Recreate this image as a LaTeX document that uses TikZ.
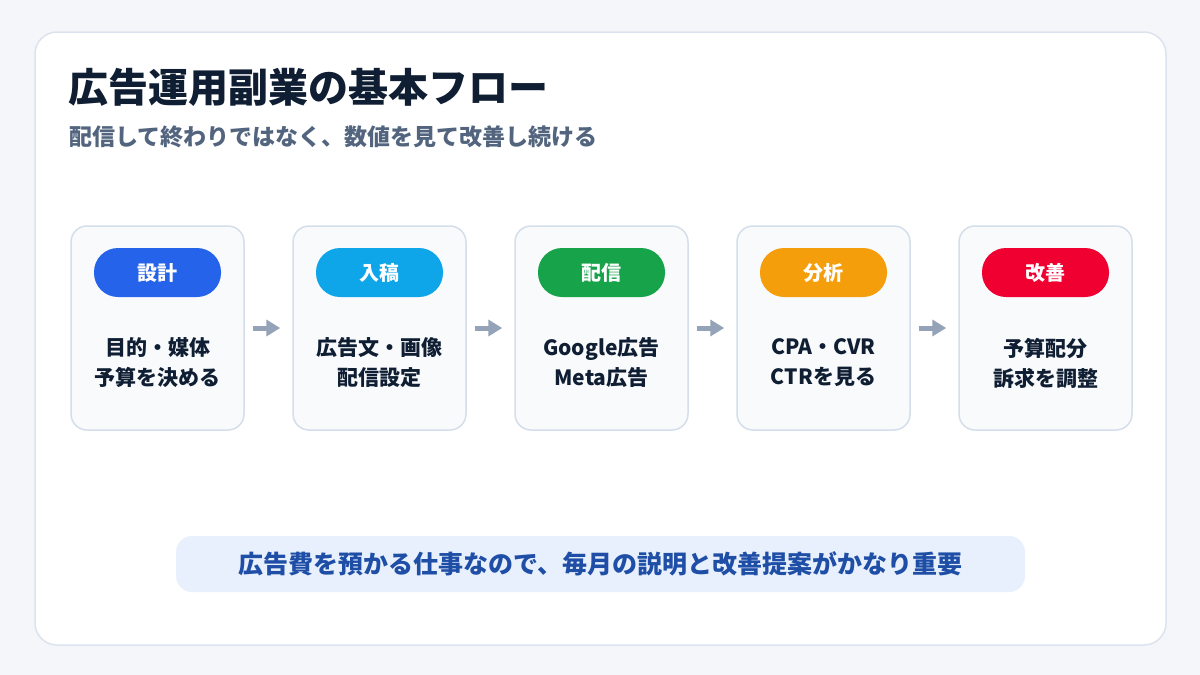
\documentclass[tikz,border=0pt]{standalone}
\usepackage{fontspec}
\setmainfont{Noto Sans CJK JP}
\usepackage{tikz}
\usetikzlibrary{arrows.meta,positioning}
\definecolor{fondo}{HTML}{F4F6FA}
\definecolor{borde}{HTML}{DCE3EE}
\definecolor{tarjetafondo}{HTML}{F8FAFC}
\definecolor{tarjetaborde}{HTML}{D5DEEB}
\definecolor{tinta}{HTML}{0F1E32}
\definecolor{tenue}{HTML}{52647E}
\definecolor{gris}{HTML}{94A3B8}
\definecolor{paso1}{HTML}{2563EB}
\definecolor{paso2}{HTML}{0EA5E9}
\definecolor{paso3}{HTML}{16A34A}
\definecolor{paso4}{HTML}{F59E0B}
\definecolor{paso5}{HTML}{EF0030}
\definecolor{notafondo}{HTML}{E8F0FD}
\definecolor{notatinta}{HTML}{1E4EA6}
\tikzset{
  tarjeta/.style={draw=tarjetaborde,fill=tarjetafondo,line width=1.5pt,rounded corners=16pt,minimum width=173pt,minimum height=204pt,inner sep=0pt},
  pastilla/.style={fill=#1,text=white,rounded corners=24pt,minimum width=127pt,minimum height=49pt,inner sep=0pt,font=\fontsize{20}{22}\selectfont\bfseries},
  texto/.style={text=tinta,align=center,inner sep=0pt,font=\fontsize{21}{30}\selectfont\bfseries},
  flecha/.style={draw=gris,line width=5pt,-{Triangle[length=14pt,width=16pt]},shorten <=8pt,shorten >=12pt},
}

\begin{document}
\begin{tikzpicture}[x=1pt,y=-1pt]
\useasboundingbox[fill=fondo] (0,0) rectangle (1200,675);
\draw[borde,fill=white,line width=1.5pt,rounded corners=22pt] (35,32) rectangle (1166,645);
\node[anchor=west,inner sep=0pt,text=tinta,font=\fontsize{40}{42}\selectfont\bfseries] (titulo) at (68,87) {広告運用副業の基本フロー};
\node[anchor=west,inner sep=0pt,text=tenue,font=\fontsize{23}{25}\selectfont\bfseries] (subtitulo) at (69,137) {配信して終わりではなく、数値を見て改善し続ける};
\node[tarjeta] (t1) at (157.5,328) {};
\node[tarjeta] (t2) at (379.5,328) {};
\node[tarjeta] (t3) at (601.5,328) {};
\node[tarjeta] (t4) at (823.5,328) {};
\node[tarjeta] (t5) at (1045.5,328) {};
\node[pastilla=paso1] (p1) at (157.5,272.5) {設計};
\node[pastilla=paso2] (p2) at (379.5,272.5) {入稿};
\node[pastilla=paso3] (p3) at (601.5,272.5) {配信};
\node[pastilla=paso4] (p4) at (823.5,272.5) {分析};
\node[pastilla=paso5] (p5) at (1045.5,272.5) {改善};
\node[texto] (x1) at (157.5,363) {目的・媒体\\予算を決める};
\node[texto] (x2) at (379.5,363) {広告文・画像\\配信設定};
\node[texto] (x3) at (601.5,363) {Google広告\\Meta広告};
\node[texto] (x4) at (823.5,363) {CPA・CVR\\CTRを見る};
\node[texto] (x5) at (1045.5,363) {予算配分\\訴求を調整};
\draw[flecha] (t1.east) -- (t2.west);
\draw[flecha] (t2.east) -- (t3.west);
\draw[flecha] (t3.east) -- (t4.west);
\draw[flecha] (t4.east) -- (t5.west);
\node[fill=notafondo,rounded corners=16pt,minimum width=849pt,minimum height=56pt,inner sep=0pt,text=notatinta,font=\fontsize{25}{27}\selectfont\bfseries] (nota) at (600.5,564) {広告費を預かる仕事なので、毎月の説明と改善提案がかなり重要};
\end{tikzpicture}
\end{document}
